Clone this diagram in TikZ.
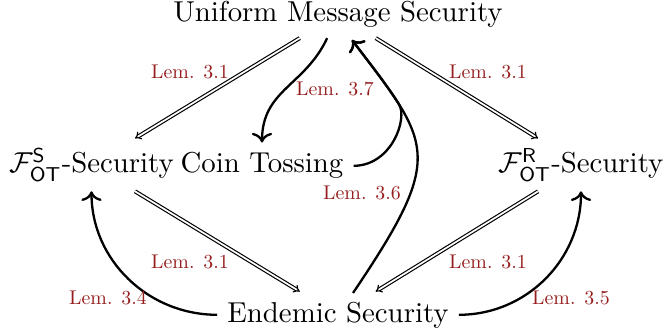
\documentclass[tikz,border=0pt]{standalone}
\usepackage{amsmath}
\usetikzlibrary{arrows.meta}
\definecolor{lemred}{RGB}{150,30,30}
\newcommand{\lemtxt}[1]{\scalebox{0.69}{#1}}
\begin{document}
\begin{tikzpicture}[x=0.34722pt,y=0.34722pt,
  lbl/.style={text=lemred, inner sep=1pt},
  impl/.style={double, double distance=0.6pt, -Implies},
  arr/.style={->, thick},
]
\useasboundingbox (0,0) rectangle (665,335);
\node[anchor=base] (ums) at (338,313) {Uniform Message Security};
\node[anchor=base] (fs) at (91.5,162) {$\mathcal{F}^{\mathsf{S}}_{\mathsf{OT}}$-Security};
\node[anchor=base] (coin) at (262,162) {Coin Tossing};
\node[anchor=base] (fr) at (581,162) {$\mathcal{F}^{\mathsf{R}}_{\mathsf{OT}}$-Security};
\node[anchor=base] (end) at (338,13) {Endemic Security};

\coordinate (tip) at (352,295);
\coordinate (s) at (353,42);
\coordinate (m) at (399,230.6);

\draw[impl] (ums) -- (fs);
\draw[impl] (ums) -- (fr);
\draw[impl] (fs) -- (end);
\draw[impl] (fr) -- (end);

\draw[arr] (ums) to[out=-115, in=90, looseness=1.1] (coin);
\draw[arr] (s) .. controls (446,180) and (432,190) .. (tip);
\draw[arr] (coin.east) .. controls +(38,0) and (407.9,216.4) .. (m) .. controls (387.9,248.4) and (372,268.75) .. (tip);
\draw[arr] (end) to[out=180, in=-90] (fs);
\draw[arr] (end) to[out=0, in=-90] (fr);

\node[lbl] (l1) at (190,263) {\lemtxt{Lem. 3.1}};
\node[lbl] (l2) at (488,263) {\lemtxt{Lem. 3.1}};
\node[lbl] (l3) at (335,246) {\lemtxt{Lem. 3.7}};
\node[lbl] (l4) at (362,142) {\lemtxt{Lem. 3.6}};
\node[lbl] (l5) at (190,73) {\lemtxt{Lem. 3.1}};
\node[lbl] (l6) at (488,73) {\lemtxt{Lem. 3.1}};
\node[lbl] (l7) at (108,37) {\lemtxt{Lem. 3.4}};
\node[lbl] (l8) at (571,37) {\lemtxt{Lem. 3.5}};
\end{tikzpicture}
\end{document}
